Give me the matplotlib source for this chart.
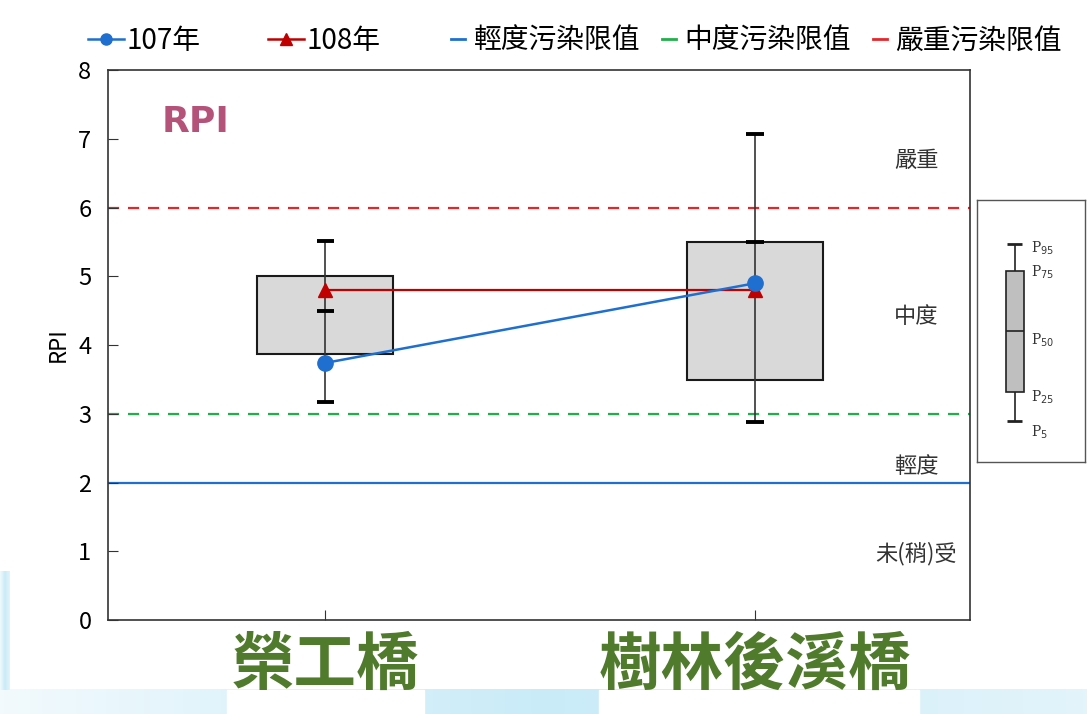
import numpy as np
import matplotlib.pyplot as plt
from matplotlib.lines import Line2D
from matplotlib.colors import LinearSegmentedColormap

plt.rcParams['font.family'] = ['Noto Sans CJK TC', 'DejaVu Sans']

# data
sites = ['榮工橋', '樹林後溪橋']
p5 = [3.17, 2.88]
p25 = [3.87, 3.49]
p50 = [4.50, 5.50]
p75 = [5.00, 5.50]
p95 = [5.51, 7.07]
rpi_107 = [3.74, 4.90]
rpi_108 = [4.80, 4.80]

limits = [2, 3, 6]
limit_names = ['輕度污染限值', '中度污染限值', '嚴重污染限值']
limit_colors = ['#1f6fd0', '#1fb04a', '#e8262a']
limit_styles = ['-', '--', '--']

zone_names = ['未(稍)受', '輕度', '中度', '嚴重']
zone_y = [0.97, 2.23, 4.41, 6.68]

# schematic key (fractions of the key box)
key_stats = [0.157, 0.267, 0.5, 0.729, 0.832]
key_labels = ['P$_{5}$', 'P$_{25}$', 'P$_{50}$', 'P$_{75}$', 'P$_{95}$']
key_label_y = [0.115, 0.248, 0.466, 0.725, 0.817]

fig = plt.figure(figsize=(10.87, 7.14), dpi=100)

# pale background swoosh at the bottom
bg = fig.add_axes([0, 0, 1, 1], zorder=-10)
bg.set_xlim(0, 1)
bg.set_ylim(0, 1)
bg.axis('off')
pale = LinearSegmentedColormap.from_list('pale', ['#f2fafd', '#c9ebf8', '#e3f4fb'])
grad = np.linspace(0, 1, 256).reshape(1, -1)
bg.imshow(grad, extent=[0, 1, 0, 0.034], aspect='auto', cmap=pale)
bg.imshow(grad, extent=[0, 0.009, 0.034, 0.2], aspect='auto', cmap=pale)
bg.add_patch(plt.Rectangle((0.209, 0.0), 0.181, 0.034, color='white'))
bg.add_patch(plt.Rectangle((0.551, 0.0), 0.294, 0.034, color='white'))

ax = fig.add_axes([0.0994, 0.1317, 0.793, 0.770])
x = np.arange(len(sites))
bw = 0.316

ax.bar(x, np.array(p75) - np.array(p25), bottom=p25, width=bw,
       color='#d9d9d9', edgecolor='#1a1a1a', linewidth=1.5, zorder=2)
ax.vlines(x, p5, p95, color='#333333', linewidth=1.2, zorder=3)
for vals in (p5, p95, p50):
    ax.hlines(vals, x - 0.02, x + 0.02, color='black', linewidth=2.8, zorder=3)

for y, c, ls in zip(limits, limit_colors, limit_styles):
    ax.axhline(y, color=c, linestyle=ls, linewidth=1.6, dashes=(5, 4) if ls == '--' else (None, None), zorder=1)

ax.plot(x, rpi_108, color='#c00000', marker='^', markersize=10, linewidth=1.6, zorder=4)
ax.plot(x, rpi_107, color='#1f6fd0', marker='o', markersize=11, linewidth=1.8, zorder=5)

for name, y in zip(zone_names, zone_y):
    ax.text(1.375, y, name, ha='center', va='center', fontsize=16, color='#333333')

ax.text(-0.38, 7.25, 'RPI', fontsize=26, fontweight='bold', color='#b5527a',
        family=['DejaVu Sans'], ha='left', va='center')

ax.set_xlim(-0.505, 1.5)
ax.set_ylim(0, 8)
ax.set_yticks(range(0, 9))
ax.set_xticks(x)
ax.set_xticklabels(sites, fontsize=45, fontweight='black', color='#507a2c')
ax.tick_params(axis='both', direction='in', length=7, color='#333333')
ax.tick_params(axis='y', labelsize=17, pad=12)
ax.tick_params(axis='x', pad=10)
ax.set_ylabel('RPI', fontsize=16, labelpad=6)
for s in ax.spines.values():
    s.set_color('#333333')
    s.set_linewidth(1.2)

# legends: year series on the left, limit lines on the right
year_handles = [
    Line2D([], [], color='#1f6fd0', marker='o', markersize=8, linewidth=1.8),
    Line2D([], [], color='#c00000', marker='^', markersize=8, linewidth=1.8),
]
fig.legend(year_handles, ['107年', '108年'], loc='center left', ncol=2,
           bbox_to_anchor=(0.058, 0.943), frameon=False, fontsize=20,
           handlelength=1.3, handletextpad=0.1, columnspacing=2.4)
limit_handles = [Line2D([], [], color=c, linewidth=2) for c in limit_colors]
fig.legend(limit_handles, limit_names, loc='center right', ncol=3,
           bbox_to_anchor=(1.0, 0.943), frameon=False, fontsize=20,
           handlelength=0.5, handletextpad=0.3, columnspacing=0.8)

# key inset
kx = fig.add_axes([0.899, 0.353, 0.099, 0.367])
kx.set_xlim(0, 1)
kx.set_ylim(0, 1)
kx.set_xticks([])
kx.set_yticks([])
for s in kx.spines.values():
    s.set_color('#555555')
    s.set_linewidth(1.0)
kc = 0.35
kx.bar([kc], [key_stats[3] - key_stats[1]], bottom=key_stats[1], width=0.17,
       color='#bfbfbf', edgecolor='#222222', linewidth=1.2)
kx.vlines([kc], key_stats[0], key_stats[1], color='#222222', linewidth=1.2)
kx.vlines([kc], key_stats[3], key_stats[4], color='#222222', linewidth=1.2)
kx.hlines([key_stats[0], key_stats[4]], kc - 0.07, kc + 0.07, color='#222222', linewidth=2)
kx.hlines([key_stats[2]], kc - 0.085, kc + 0.085, color='#222222', linewidth=1.2)
for lab, y in zip(key_labels, key_label_y):
    kx.text(0.5, y, lab, fontsize=10, family=['DejaVu Serif'], va='center', ha='left', color='#333333')

fig.savefig('out.png', dpi=100)
